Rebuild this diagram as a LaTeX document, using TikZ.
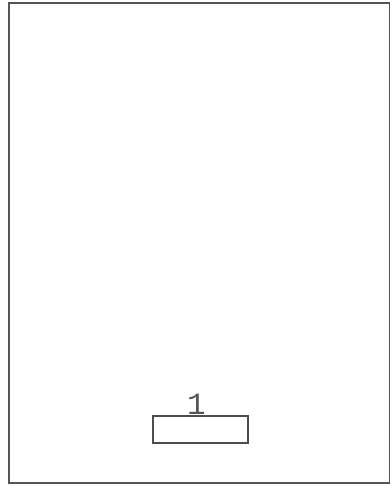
\documentclass[tikz,border=0pt]{standalone}
\usepackage{fontspec}
\newfontfamily\labelfont{Liberation Mono}
\definecolor{ink}{HTML}{555555}
\begin{document}
\begin{tikzpicture}[x=1pt,y=-1pt,
  frame/.style={draw=ink,line width=1.8pt},
  boxstyle/.style={draw=ink!90!black,line width=1.4pt,minimum width=95pt,minimum height=27pt,inner sep=0pt},
  lbl/.style={text=ink,font=\labelfont\fontsize{31}{31}\selectfont,inner sep=0pt}]
\useasboundingbox (0,0) rectangle (391,486);
\draw[frame] (9,3) rectangle (389.5,483);
\node[boxstyle] (box) at (200.5,429.5) {};
\node[lbl,anchor=base] (one) at ([xshift=-4pt,yshift=1pt]box.north) {1};
\end{tikzpicture}
\end{document}
